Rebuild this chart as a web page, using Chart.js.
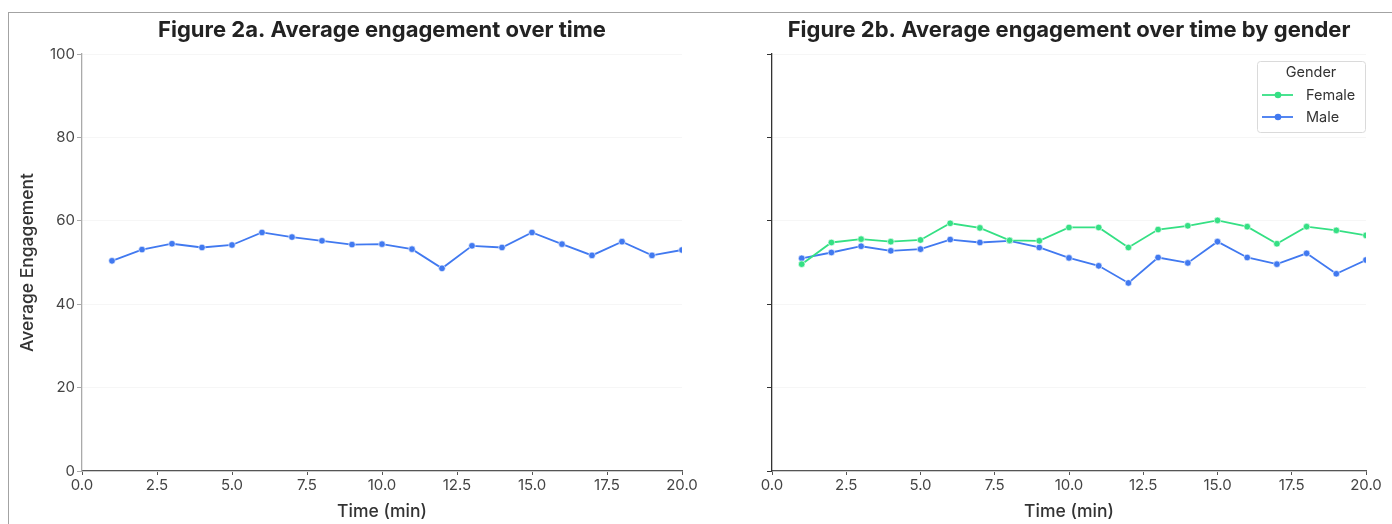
<!DOCTYPE html>
<html>
<head>
<meta charset="utf-8">
<script src="https://cdn.jsdelivr.net/npm/chart.js@4.4.0/dist/chart.umd.min.js"></script>
<style>
body { margin: 0; background: #fff; width: 1392px; height: 524px; overflow: hidden; position: relative; font-family: Inter, sans-serif; }
#frame { position: absolute; left: 8px; top: 12px; width: 1500px; height: 600px; border: 1px solid #a3a3a3; }
.box { position: absolute; top: 0; height: 524px; }
</style>
</head>
<body>
<div id="frame"></div>
<div class="box" style="left:0;width:720px"><canvas id="leftChart" width="720" height="524"></canvas></div>
<div class="box" style="left:696px;width:696px"><canvas id="rightChart" width="696" height="524"></canvas></div>
<script>
'use strict';
let times = [1, 2, 3, 4, 5, 6, 7, 8, 9, 10, 11, 12, 13, 14, 15, 16, 17, 18, 19, 20];
let overall = [50.4, 53.1, 54.5, 53.6, 54.2, 57.2, 56.1, 55.2, 54.3, 54.4, 53.2, 48.6, 54.0, 53.6, 57.2, 54.4, 51.7, 55.0, 51.7, 53.0];
let female = [49.6, 54.8, 55.6, 55.0, 55.4, 59.4, 58.3, 55.3, 55.2, 58.4, 58.4, 53.6, 57.9, 58.8, 60.1, 58.6, 54.5, 58.6, 57.7, 56.5];
let male = [51.0, 52.4, 53.9, 52.8, 53.2, 55.5, 54.8, 55.2, 53.6, 51.1, 49.2, 45.1, 51.2, 49.9, 55.0, 51.2, 49.6, 52.2, 47.3, 50.6];
let xTicks = [0, 2.5, 5, 7.5, 10, 12.5, 15, 17.5, 20];
let yTicks = [0, 20, 40, 60, 80, 100];

let blue = '#4179f0';
let green = '#35e084';
let tickFont = { family: 'Inter', size: 15 };
let labelFont = { family: 'Inter', size: 17.5, weight: '500' };

function toPoints(vals) {
    return times.map((t, i) => ({ x: t, y: vals[i] }));
}

function lineSet(label, vals, color) {
    return {
        label: label,
        data: toPoints(vals),
        borderColor: color,
        backgroundColor: color,
        borderWidth: 1.8,
        pointRadius: 3.3,
        pointBorderColor: '#fff',
        pointBorderWidth: 0.6,
        tension: 0
    };
}

function makeOptions(title, yBorder, showYLabels, yWidth, padLeft, padRight) {
    return {
        responsive: false,
        animation: false,
        devicePixelRatio: 1,
        layout: { padding: { left: padLeft, right: padRight, top: 0, bottom: 0 } },
        plugins: {
            legend: { display: false },
            tooltip: { enabled: false },
            title: {
                display: true,
                fullSize: false,
                text: title,
                color: '#222',
                font: { family: 'Inter', size: 22, weight: 'bold' },
                padding: { top: 17, bottom: 10.6 }
            }
        },
        scales: {
            x: {
                type: 'linear',
                min: 0,
                max: 20,
                afterBuildTicks: (s) => { s.ticks = xTicks.map(v => ({ value: v })); },
                afterFit: (s) => { s.height = 53; s.paddingLeft = 0; s.paddingRight = 0; },
                ticks: { color: '#444', font: tickFont, padding: 1, maxRotation: 0, callback: (v) => v.toFixed(1) },
                grid: { drawOnChartArea: false, tickLength: 4, tickColor: '#555' },
                border: { color: '#555', width: 1.3 },
                title: { display: true, text: 'Time (min)', color: '#333', font: labelFont, padding: { top: 0, bottom: 1.5 } }
            },
            y: {
                min: 0,
                max: 100,
                afterBuildTicks: (s) => { s.ticks = yTicks.map(v => ({ value: v })); },
                afterFit: (s) => { s.width = yWidth; s.paddingTop = 0; s.paddingBottom = 0; },
                ticks: { display: showYLabels, color: '#444', font: tickFont, padding: 2 },
                grid: { color: '#f6f6f6', tickLength: 5, tickColor: yBorder },
                border: { color: yBorder, width: 1.3 },
                title: { display: showYLabels, text: 'Average Engagement', color: '#333', font: labelFont, padding: { top: 4, bottom: 4 } }
            }
        }
    };
}

let legendBox = {
    id: 'legendBox',
    afterDraw(chart) {
        let ctx = chart.ctx;
        let area = chart.chartArea;
        let w = 108, h = 71;
        let x = area.right - 1 - w;
        let y = area.top + 7;
        ctx.save();
        ctx.beginPath();
        ctx.roundRect(x + 0.5, y + 0.5, w, h, 3);
        ctx.fillStyle = 'rgba(255,255,255,0.85)';
        ctx.fill();
        ctx.strokeStyle = '#dadada';
        ctx.lineWidth = 1;
        ctx.stroke();
        ctx.fillStyle = '#333';
        ctx.font = '14.5px Inter';
        ctx.textAlign = 'center';
        ctx.textBaseline = 'middle';
        ctx.fillText('Gender', x + w / 2, y + 12);
        chart.data.datasets.forEach((ds, i) => {
            let ry = y + 34 + i * 22;
            ctx.strokeStyle = ds.borderColor;
            ctx.lineWidth = 1.8;
            ctx.beginPath();
            ctx.moveTo(x + 5, ry);
            ctx.lineTo(x + 36, ry);
            ctx.stroke();
            ctx.fillStyle = ds.borderColor;
            ctx.beginPath();
            ctx.arc(x + 21, ry, 3.3, 0, Math.PI * 2);
            ctx.fill();
            ctx.fillStyle = '#333';
            ctx.textAlign = 'left';
            ctx.fillText(ds.label, x + 49, ry + 1);
        });
        ctx.restore();
    }
};

new Chart(document.getElementById('leftChart').getContext('2d'), {
    type: 'line',
    data: { datasets: [lineSet('Average', overall, blue)] },
    options: makeOptions('Figure 2a. Average engagement over time', '#aaa', true, 69, 13, 38)
});

new Chart(document.getElementById('rightChart').getContext('2d'), {
    type: 'line',
    data: { datasets: [lineSet('Female', female, green), lineSet('Male', male, blue)] },
    options: makeOptions('Figure 2b. Average engagement over time by gender', '#333', false, 76, 0, 26),
    plugins: [legendBox]
});
</script>
</body>
</html>
